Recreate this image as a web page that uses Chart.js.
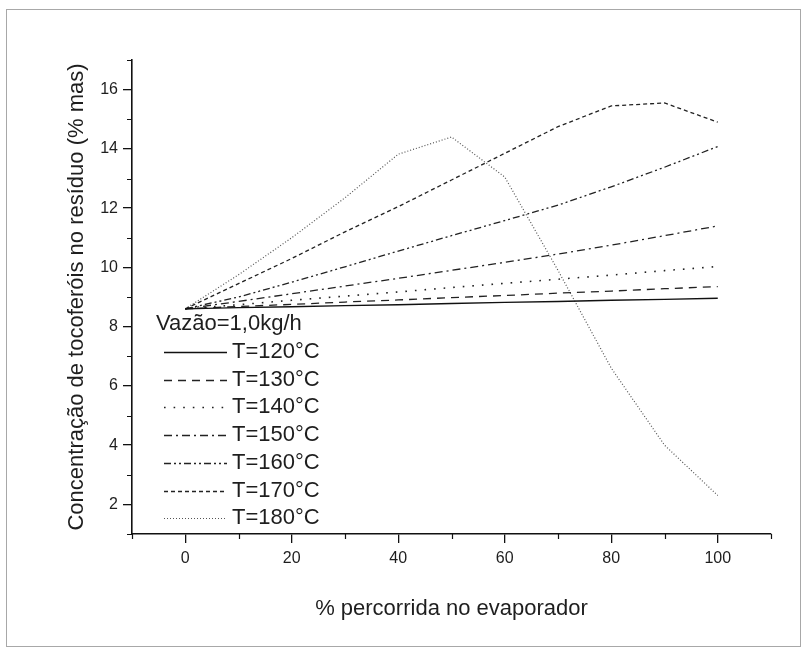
<!DOCTYPE html>
<html>
<head>
<meta charset="utf-8">
<script src="https://cdn.jsdelivr.net/npm/chart.js@4"></script>
<style>
  html, body { margin: 0; padding: 0; background: #fff; }
  #wrap { position: relative; width: 808px; height: 653px; }
  #frame { position: absolute; left: 6px; top: 9px; width: 795px; height: 638px; border: 1px solid #a8a8a8; box-sizing: border-box; pointer-events: none; }
  canvas { position: absolute; left: 0; top: 0; }
</style>
</head>
<body>
<div id="wrap">
  <canvas id="c" width="808" height="653"></canvas>
  <div id="frame"></div>
</div>
<script>
// Position along the evaporator (%)
const xValues = [0, 10, 20, 30, 40, 50, 60, 70, 80, 90, 100];

// Tocopherol concentration in the residue (% mass) for each temperature
const t120 = [8.6, 8.64, 8.67, 8.71, 8.74, 8.78, 8.82, 8.85, 8.89, 8.92, 8.96];
const t130 = [8.6, 8.68, 8.75, 8.83, 8.9, 8.98, 9.05, 9.13, 9.2, 9.28, 9.35];
const t140 = [8.6, 8.74, 8.89, 9.03, 9.17, 9.32, 9.46, 9.6, 9.74, 9.89, 10.03];
const t150 = [8.6, 8.85, 9.11, 9.37, 9.63, 9.9, 10.17, 10.45, 10.75, 11.07, 11.4];
const t160 = [8.6, 9.0, 9.5, 10.02, 10.55, 11.07, 11.58, 12.1, 12.72, 13.38, 14.08];
const t170 = [8.6, 9.45, 10.3, 11.2, 12.05, 12.95, 13.85, 14.75, 15.45, 15.55, 14.9];
const t180 = [8.6, 9.75, 11.0, 12.35, 13.82, 14.4, 13.05, 9.9, 6.6, 4.0, 2.3];

const seriesLabels = ['T=120°C', 'T=130°C', 'T=140°C', 'T=150°C', 'T=160°C', 'T=170°C', 'T=180°C'];
const legendHeader = 'Vazão=1,0kg/h';

// Axis ticks
const xTickValues = [0, 20, 40, 60, 80, 100];
const xMinorValues = [-10, 10, 30, 50, 70, 90, 110];
const yTickValues = [2, 4, 6, 8, 10, 12, 14, 16];
const yMinorValues = [1, 3, 5, 7, 9, 11, 13, 15, 17];

const xTitle = '% percorrida no evaporador';
const yTitle = 'Concentração de tocoferóis no resíduo (% mas)';

const FONT = '"Liberation Sans", Arial, Helvetica, sans-serif';
const INK = '#1e1e1e';

const styles = [
  { color: '#111', dash: [], width: 1.4 },
  { color: '#222', dash: [8, 6], width: 1.3 },
  { color: '#222', dash: [1.6, 8], width: 1.6 },
  { color: '#222', dash: [8, 4, 2, 4], width: 1.3 },
  { color: '#222', dash: [7, 3, 2, 3, 2, 3], width: 1.3 },
  { color: '#222', dash: [4, 3], width: 1.3 },
  { color: '#555', dash: [1, 2], width: 1.2 }
];

const seriesValues = [t120, t130, t140, t150, t160, t170, t180];

const datasets = seriesValues.map((vals, i) => ({
  label: seriesLabels[i],
  data: vals.map((v, k) => ({ x: xValues[k], y: v })),
  borderColor: styles[i].color,
  borderDash: styles[i].dash,
  borderWidth: styles[i].width,
  pointRadius: 0,
  fill: false,
  tension: 0
}));

// Short minor ticks between the labelled ones
const minorTicks = {
  id: 'minorTicks',
  afterDraw(chart) {
    const { ctx, chartArea, scales } = chart;
    ctx.save();
    ctx.strokeStyle = '#111';
    ctx.lineWidth = 1.2;
    ctx.beginPath();
    yMinorValues.forEach(v => {
      const py = Math.round(scales.y.getPixelForValue(v)) + 0.5;
      ctx.moveTo(chartArea.left - 5, py);
      ctx.lineTo(chartArea.left, py);
    });
    xMinorValues.forEach(v => {
      const px = Math.round(scales.x.getPixelForValue(v)) + 0.5;
      ctx.moveTo(px, chartArea.bottom);
      ctx.lineTo(px, chartArea.bottom + 5);
    });
    ctx.stroke();
    ctx.restore();
  }
};

// Axis titles
const axisTitles = {
  id: 'axisTitles',
  afterDraw(chart) {
    const { ctx, chartArea } = chart;
    ctx.save();
    ctx.fillStyle = INK;
    ctx.font = '22px ' + FONT;
    ctx.textAlign = 'center';
    ctx.textBaseline = 'middle';
    ctx.fillText(xTitle, (chartArea.left + chartArea.right) / 2, 609);
    ctx.translate(77, (chartArea.top + chartArea.bottom) / 2);
    ctx.rotate(-Math.PI / 2);
    ctx.fillText(yTitle, 0, 0);
    ctx.restore();
  }
};

// Legend inside the plot, with the flow-rate header
const insideLegend = {
  id: 'insideLegend',
  afterDraw(chart) {
    const { ctx } = chart;
    ctx.save();
    ctx.fillStyle = INK;
    ctx.font = '22px ' + FONT;
    ctx.textAlign = 'left';
    ctx.textBaseline = 'middle';
    ctx.fillText(legendHeader, 156, 324);
    chart.data.datasets.forEach((ds, i) => {
      const y = 352 + i * 27.7;
      ctx.save();
      ctx.strokeStyle = ds.borderColor;
      ctx.lineWidth = ds.borderWidth;
      ctx.setLineDash(ds.borderDash);
      ctx.beginPath();
      ctx.moveTo(164, Math.round(y) + 0.5);
      ctx.lineTo(227, Math.round(y) + 0.5);
      ctx.stroke();
      ctx.restore();
      ctx.fillText(ds.label, 232, y);
    });
    ctx.restore();
  }
};

new Chart(document.getElementById('c'), {
  type: 'line',
  data: { datasets },
  options: {
    responsive: false,
    animation: false,
    devicePixelRatio: 1,
    layout: { padding: { left: 0, top: 60, right: 37, bottom: 0 } },
    plugins: { legend: { display: false }, tooltip: { enabled: false } },
    scales: {
      x: {
        type: 'linear',
        min: -10,
        max: 110,
        afterFit(scale) { scale.height = 119; },
        afterBuildTicks(scale) { scale.ticks = xTickValues.map(v => ({ value: v })); },
        grid: { drawOnChartArea: false, drawTicks: true, tickLength: 9, color: '#111', lineWidth: 1.3 },
        border: { display: true, color: '#111', width: 1.6 },
        ticks: { color: INK, font: { family: FONT, size: 16 }, padding: 6, maxRotation: 0, autoSkip: false },
        title: { display: false }
      },
      y: {
        type: 'linear',
        min: 1,
        max: 17,
        afterFit(scale) { scale.width = 132; },
        afterBuildTicks(scale) { scale.ticks = yTickValues.map(v => ({ value: v })); },
        grid: { drawOnChartArea: false, drawTicks: true, tickLength: 9, color: '#111', lineWidth: 1.3 },
        border: { display: true, color: '#111', width: 1.6 },
        ticks: { color: INK, font: { family: FONT, size: 16 }, padding: 5, autoSkip: false },
        title: { display: false }
      }
    }
  },
  plugins: [minorTicks, axisTitles, insideLegend]
});
</script>
</body>
</html>
